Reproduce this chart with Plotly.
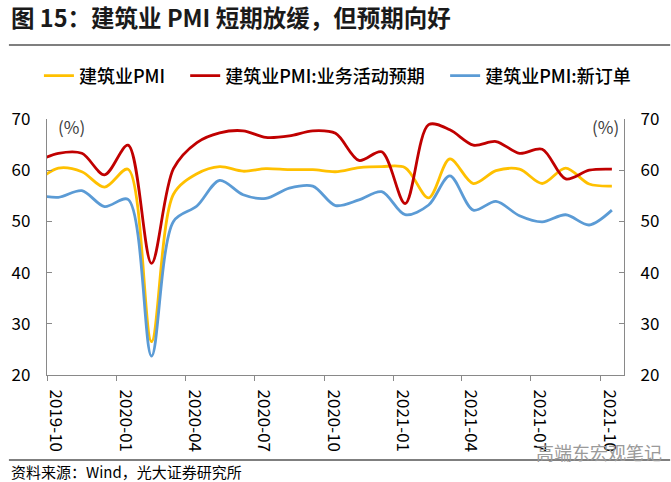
import plotly.graph_objects as go

months = ["2019-09", "2019-10", "2019-11", "2019-12", "2020-01", "2020-02", "2020-03",
          "2020-04", "2020-05", "2020-06", "2020-07", "2020-08", "2020-09", "2020-10",
          "2020-11", "2020-12", "2021-01", "2021-02", "2021-03", "2021-04", "2021-05",
          "2021-06", "2021-07", "2021-08", "2021-09", "2021-10"]

pmi = [57.6, 60.4, 59.7, 56.7, 60.2, 26.5, 55.3, 59.3, 60.7, 59.8, 60.3, 60.1, 60.1,
       59.7, 60.5, 60.7, 60.5, 54.6, 62.2, 57.4, 59.9, 60.2, 57.4, 60.4, 57.3, 56.9]
expect = [61.6, 63.3, 63.3, 59.1, 64.9, 41.8, 60.3, 65.4, 67.3, 67.7, 66.4, 66.7, 67.7,
          67.2, 61.9, 63.6, 53.5, 68.9, 67.9, 64.9, 65.6, 63.3, 64.1, 58.3, 60.0, 60.2]
orders = [55.2, 54.7, 56.0, 52.9, 54.3, 23.7, 50.0, 53.0, 58.0, 55.2, 54.5, 56.5, 56.9,
          53.1, 54.2, 55.8, 51.3, 53.2, 58.9, 52.2, 53.9, 51.1, 49.9, 51.3, 49.3, 52.2]

names = ["建筑业PMI", "建筑业PMI:业务活动预期", "建筑业PMI:新订单"]
colors = ["#FFC000", "#C00000", "#5B9BD5"]
legend_ids = ["legend", "legend2", "legend3"]
legend_x = [-0.0140, 0.2395, 0.690]

x = [m + "-16" for m in months]

FONT = "Noto Sans CJK SC"
fig = go.Figure()
for name, vals, c, lg in zip(names, [pmi, expect, orders], colors, legend_ids):
    fig.add_trace(go.Scatter(x=x, y=vals, name=name, mode="lines", legend=lg,
                             line=dict(color=c, width=2.8, shape="spline", smoothing=0.9),
                             hoverinfo="skip"))
# invisible trace to carry the right-hand axis
fig.add_trace(go.Scatter(x=x, y=pmi, yaxis="y2", mode="lines", showlegend=False,
                         line=dict(width=0), opacity=0, hoverinfo="skip"))

axcol = "#898989"
legfont = dict(size=18, family=FONT, color="black", weight=500)


def leg(xp):
    return dict(orientation="h", x=xp, xanchor="left", y=1.168, yanchor="middle",
                font=legfont, itemwidth=30, bgcolor="rgba(0,0,0,0)", borderwidth=0)


fig.update_layout(
    width=671, height=482,
    margin=dict(l=46, r=42, t=119, b=107),
    paper_bgcolor="white", plot_bgcolor="white",
    font=dict(family=FONT, size=16, color="black"),
    showlegend=True,
    legend=leg(legend_x[0]), legend2=leg(legend_x[1]), legend3=leg(legend_x[2]),
    xaxis=dict(type="date", range=["2019-10-01", "2021-11-01"], tick0="2019-10-01",
               dtick="M3", tickformat="%Y-%m", tickangle=90, ticks="outside", ticklen=5,
               tickcolor=axcol, showline=True, linecolor=axcol, linewidth=1.3,
               showgrid=False, zeroline=False, ticklabelshift=9, ticklabelstandoff=5,
               tickfont=dict(size=17, family=FONT)),
    yaxis=dict(range=[20, 70], dtick=10, ticks="inside", ticklen=5, tickcolor=axcol,
               showline=True, linecolor=axcol, linewidth=1.3, showgrid=False,
               zeroline=False, ticklabelstandoff=12, tickfont=dict(size=17, family=FONT)),
    yaxis2=dict(range=[20, 70], dtick=10, overlaying="y", side="right", ticks="inside",
                ticklen=5, tickcolor=axcol, showline=True, linecolor=axcol, linewidth=1.3,
                showgrid=False, zeroline=False, ticklabelstandoff=12,
                tickfont=dict(size=17, family=FONT)),
)

ann = [
    dict(text="<b>图 15：建筑业 PMI 短期放缓，但预期向好</b>", x=-0.066, y=1.397,
         xanchor="left", yanchor="middle", font=dict(size=23.5, family=FONT, color="#1a1a1a")),
    dict(text="(%)", x=0.016, y=0.97, xanchor="left", yanchor="middle",
         font=dict(size=17, family=FONT, color="#404040")),
    dict(text="(%)", x=0.995, y=0.97, xanchor="right", yanchor="middle",
         font=dict(size=17, family=FONT, color="#404040")),
    dict(text="资料来源：Wind，光大证券研究所", x=-0.066, y=-0.375, xanchor="left",
         yanchor="middle", font=dict(size=15, family=FONT, color="black")),
    dict(text="高端东宏观笔记", x=1.069, y=-0.301, xanchor="right", yanchor="middle",
         font=dict(size=18, family=FONT, color="#9a9a9a")),
]
for a in ann:
    a.update(xref="paper", yref="paper", showarrow=False)
fig.update_layout(annotations=ann)

fig.add_shape(type="line", xref="paper", yref="paper", x0=-0.066, x1=1.08, y0=1.289, y1=1.289,
              line=dict(color="black", width=1.2))
fig.add_shape(type="line", xref="paper", yref="paper", x0=-0.066, x1=1.08, y0=-0.332, y1=-0.332,
              line=dict(color="black", width=1.2))

fig.write_html("out.html", config={"displayModeBar": False},
               post_script="document.body.style.margin='0px';")
